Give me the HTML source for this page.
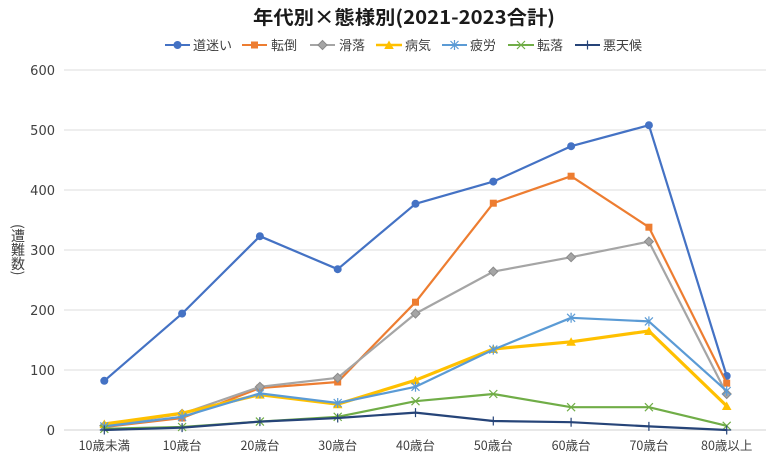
<!DOCTYPE html>
<html><head><meta charset="utf-8"><style>
html,body{margin:0;padding:0;background:#fff;}
body{width:768px;height:457px;overflow:hidden;position:relative;font-family:"Liberation Sans","Noto Sans CJK JP",sans-serif;}
.yl{position:absolute;left:10px;top:224px;writing-mode:vertical-rl;text-orientation:mixed;font-size:14px;color:#404040;font-family:"Noto Sans CJK JP",sans-serif;line-height:16px;}
</style></head><body>
<svg width="768" height="457" viewBox="0 0 768 457" xmlns="http://www.w3.org/2000/svg" style="position:absolute;left:0;top:0">
<defs>
<marker id="mc" markerUnits="userSpaceOnUse" markerWidth="12" markerHeight="12" refX="6" refY="6" overflow="visible"><circle cx="6" cy="6" r="4" fill="#4472C4"/></marker>
<marker id="ms" markerUnits="userSpaceOnUse" markerWidth="12" markerHeight="12" refX="6" refY="6" overflow="visible"><rect x="2.5" y="2.5" width="7" height="7" fill="#ED7D31"/></marker>
<marker id="md" markerUnits="userSpaceOnUse" markerWidth="12" markerHeight="12" refX="6" refY="6" overflow="visible"><path d="M6 1.5 L10.5 6 L6 10.5 L1.5 6 Z" fill="#A5A5A5" stroke="#8a8a8a" stroke-width="1"/></marker>
<marker id="mt" markerUnits="userSpaceOnUse" markerWidth="12" markerHeight="12" refX="6" refY="6" overflow="visible"><path d="M6 1.5 L10.8 10 L1.2 10 Z" fill="#FFC000"/></marker>
<marker id="ma" markerUnits="userSpaceOnUse" markerWidth="12" markerHeight="12" refX="6" refY="6" overflow="visible"><path d="M2 2 L10 10 M10 2 L2 10 M6 1 L6 11" stroke="#5B9BD5" stroke-width="1.2" fill="none"/></marker>
<marker id="mx" markerUnits="userSpaceOnUse" markerWidth="12" markerHeight="12" refX="6" refY="6" overflow="visible"><path d="M2 2 L10 10 M10 2 L2 10" stroke="#70AD47" stroke-width="1.2" fill="none"/></marker>
<marker id="mp" markerUnits="userSpaceOnUse" markerWidth="12" markerHeight="12" refX="6" refY="6" overflow="visible"><path d="M6 1.5 L6 10.5 M1.5 6 L10.5 6" stroke="#264478" stroke-width="1.2" fill="none"/></marker>
</defs>
<text x="253" y="24" font-size="19" font-weight="bold" fill="#1a1a1a" font-family="Noto Sans CJK JP, sans-serif" textLength="302" lengthAdjust="spacingAndGlyphs">年代別×態様別(2021-2023合計)</text>
<!-- legend -->
<g font-size="13" fill="#404040" font-family="Noto Sans CJK JP, sans-serif">
<polyline points="165,45 177.5,45 190,45" stroke="#4472C4" stroke-width="2" fill="none" marker-mid="url(#mc)"/>
<text x="193" y="50">道迷い</text>
<polyline points="242,45 254.5,45 267,45" stroke="#ED7D31" stroke-width="2" fill="none" marker-mid="url(#ms)"/>
<text x="271" y="50">転倒</text>
<polyline points="310,45 322.5,45 335,45" stroke="#A5A5A5" stroke-width="2" fill="none" marker-mid="url(#md)"/>
<text x="339" y="50">滑落</text>
<polyline points="376,45 389,45 402,45" stroke="#FFC000" stroke-width="2.5" fill="none" marker-mid="url(#mt)"/>
<text x="405" y="50">病気</text>
<polyline points="442,45 454.5,45 467,45" stroke="#5B9BD5" stroke-width="2" fill="none" marker-mid="url(#ma)"/>
<text x="470" y="50">疲労</text>
<polyline points="508,45 521,45 534,45" stroke="#70AD47" stroke-width="2" fill="none" marker-mid="url(#mx)"/>
<text x="537" y="50">転落</text>
<polyline points="575,45 587.5,45 600,45" stroke="#264478" stroke-width="2" fill="none" marker-mid="url(#mp)"/>
<text x="603" y="50">悪天候</text>
</g>
<!-- grid -->
<g stroke="#e3e3e3" stroke-width="1.2">
<line x1="64" y1="70" x2="766" y2="70"/>
<line x1="64" y1="130" x2="766" y2="130"/>
<line x1="64" y1="190" x2="766" y2="190"/>
<line x1="64" y1="250" x2="766" y2="250"/>
<line x1="64" y1="310" x2="766" y2="310"/>
<line x1="64" y1="370" x2="766" y2="370"/>
<line x1="64" y1="430" x2="766" y2="430" stroke="#d9d9d9"/>
</g>
<g font-size="13" fill="#404040" text-anchor="end" font-family="DejaVu Sans, sans-serif">
<text x="55" y="75">600</text>
<text x="55" y="135">500</text>
<text x="55" y="195">400</text>
<text x="55" y="255">300</text>
<text x="55" y="315">200</text>
<text x="55" y="375">100</text>
<text x="55" y="435">0</text>
</g>
<g font-size="12.5" fill="#404040" text-anchor="middle" font-family="Noto Sans CJK JP, sans-serif">
<text x="104.3" y="450">10歳未満</text>
<text x="182.1" y="450">10歳台</text>
<text x="259.9" y="450">20歳台</text>
<text x="337.7" y="450">30歳台</text>
<text x="415.5" y="450">40歳台</text>
<text x="493.3" y="450">50歳台</text>
<text x="571.1" y="450">60歳台</text>
<text x="648.9" y="450">70歳台</text>
<text x="726.7" y="450">80歳以上</text>
</g>
<g fill="none" stroke-linejoin="round">
<polyline stroke="#4472C4" stroke-width="2.2" marker-start="url(#mc)" marker-mid="url(#mc)" marker-end="url(#mc)" points="104.3,380.8 182.1,313.6 259.9,236.2 337.7,269.2 415.5,203.8 493.3,181.6 571.1,146.2 648.9,125.2 726.7,376"/>
<polyline stroke="#ED7D31" stroke-width="2.2" marker-start="url(#ms)" marker-mid="url(#ms)" marker-end="url(#ms)" points="104.3,427 182.1,418 259.9,388 337.7,382 415.5,302.2 493.3,203.2 571.1,176.2 648.9,227.2 726.7,383.2"/>
<polyline stroke="#A5A5A5" stroke-width="2.2" marker-start="url(#md)" marker-mid="url(#md)" marker-end="url(#md)" points="104.3,425.8 182.1,413.8 259.9,386.8 337.7,377.8 415.5,313.6 493.3,271.6 571.1,257.2 648.9,241.6 726.7,394"/>
<polyline stroke="#FFC000" stroke-width="3.2" marker-start="url(#mt)" marker-mid="url(#mt)" marker-end="url(#mt)" points="104.3,424 182.1,413.2 259.9,394.6 337.7,404.2 415.5,380.2 493.3,349 571.1,341.8 648.9,331 726.7,406"/>
<polyline stroke="#5B9BD5" stroke-width="2.2" marker-start="url(#ma)" marker-mid="url(#ma)" marker-end="url(#ma)" points="104.3,426.4 182.1,416.8 259.9,393.4 337.7,403 415.5,386.8 493.3,349.6 571.1,317.8 648.9,321.4 726.7,391"/>
<polyline stroke="#70AD47" stroke-width="2.2" marker-start="url(#mx)" marker-mid="url(#mx)" marker-end="url(#mx)" points="104.3,428.8 182.1,427 259.9,421.6 337.7,416.8 415.5,401.2 493.3,394 571.1,407.2 648.9,407.2 726.7,425.8"/>
<polyline stroke="#264478" stroke-width="2.2" marker-start="url(#mp)" marker-mid="url(#mp)" marker-end="url(#mp)" points="104.3,430 182.1,427.6 259.9,421.6 337.7,418 415.5,412.6 493.3,421 571.1,422.2 648.9,426.4 726.7,430"/>
</g>
</svg>
<div class="yl">(遭難数)</div>
</body></html>
